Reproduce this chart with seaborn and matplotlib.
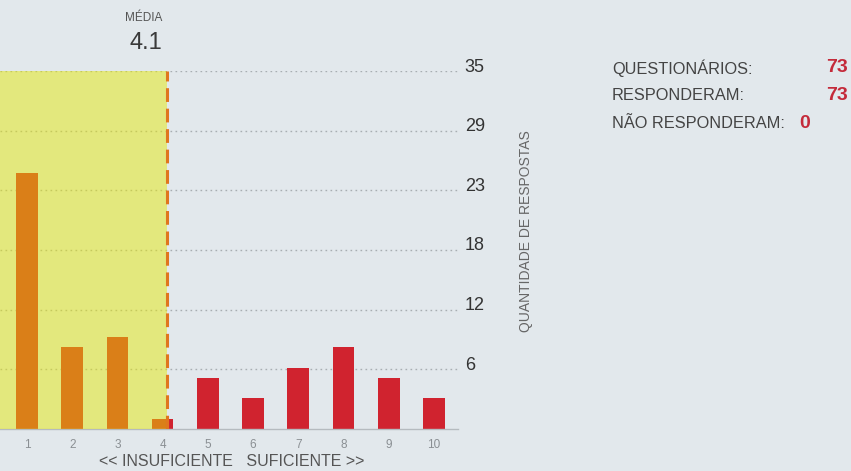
import matplotlib
matplotlib.use("Agg")
import matplotlib.pyplot as plt
import matplotlib.transforms as mtransforms
import seaborn as sns
import pandas as pd

# ---- data ----
scores = [1, 2, 3, 4, 5, 6, 7, 8, 9, 10]
counts = [25, 8, 9, 1, 5, 3, 6, 8, 5, 3]
y_max = 35
ytick_labels = ["6", "12", "18", "23", "29", "35"]
xtick_labels = [str(s) for s in scores]
stat_labels = ["QUESTIONÁRIOS:", "RESPONDERAM:", "NÃO RESPONDERAM:"]
stat_values = [73, 73, 0]
axis_caption = "<< INSUFICIENTE   SUFICIENTE >>"
ylabel_text = "QUANTIDADE DE RESPOSTAS"
mean_title = "MÉDIA"

mean_val = round(sum(s * c for s, c in zip(scores, counts)) / sum(counts), 1)

BG = "#E2E8EC"
RED = "#D0232F"
YELLOW = (0.90, 0.91, 0.0)
ORANGE_LINE = "#E0761E"

sns.set_theme(style="white")
plt.rcParams["font.family"] = ["Liberation Sans", "DejaVu Sans"]

fig = plt.figure(figsize=(8.51, 4.71), dpi=100, facecolor=BG)
ax = fig.add_axes([0.0, 1 - 429 / 471, 0.538, (429 - 71) / 471])
ax.set_facecolor(BG)

df = pd.DataFrame({"score": scores, "count": counts})
sns.barplot(data=df, x="score", y="count", native_scale=True, color=RED,
            saturation=1, width=0.48, linewidth=0, edgecolor="none",
            ax=ax, zorder=2)

ax.set_xlim(0.403, 10.53)
ax.set_ylim(0, y_max)

# y grid / ticks
tick_pos = [y_max * i / len(ytick_labels) for i in range(1, len(ytick_labels) + 1)]
for yp in tick_pos:
    ax.axhline(yp, color="#A8AEB2", lw=1.0, ls=(0, (1.2, 2.4)), zorder=1)
ax.yaxis.tick_right()
ax.set_yticks(tick_pos)
ax.set_yticklabels(ytick_labels, fontsize=13, color="#333333")
ax.tick_params(axis="y", length=0, pad=5)
up = mtransforms.ScaledTranslation(0, 6 / 100, fig.dpi_scale_trans)
for lab in ax.get_yticklabels():
    lab.set_transform(lab.get_transform() + up)

ax.set_xticks(scores)
ax.set_xticklabels(xtick_labels, fontsize=8.5, color="#8A8F93")
ax.tick_params(axis="x", length=0, pad=7)
ax.set_xlabel("")
ax.set_ylabel("")

for s in ["top", "left", "right"]:
    ax.spines[s].set_visible(False)
ax.spines["bottom"].set_color("#B5BBBF")
ax.spines["bottom"].set_linewidth(1.0)

# yellow overlay up to the mean + dashed mean line
ax.axvspan(ax.get_xlim()[0], mean_val, ymin=0, ymax=1, color=YELLOW, alpha=0.47,
           lw=0, zorder=3)
ax.plot([mean_val, mean_val], [0, y_max], color=ORANGE_LINE, lw=2.2,
        ls=(0, (4.5, 2.2)), zorder=4)

# mean label
fig.text(144 / 851, 1 - 18 / 471, mean_title, ha="center", va="center",
         fontsize=8.5, color="#555555")
fig.text(146 / 851, 1 - 43 / 471, f"{mean_val}", ha="center", va="center",
         fontsize=17, color="#3A3A3A")

# x caption
fig.text(232 / 851, 1 - 462 / 471, axis_caption, ha="center", va="center",
         fontsize=11.5, color="#555555")

# y label
fig.text(526 / 851, 1 - 231 / 471, ylabel_text, ha="center", va="center",
         rotation=90, fontsize=10, color="#666666")

# stats block
stat_y = [68, 96, 123]
val_x = [826, 826, 799]
for lab, val, yy, vx in zip(stat_labels, stat_values, stat_y, val_x):
    fig.text(612 / 851, 1 - yy / 471, lab, ha="left", va="center",
             fontsize=11.8, color="#444444")
    fig.text(vx / 851, 1 - yy / 471, str(val), ha="left", va="center",
             fontsize=14, color="#C42A3A", fontweight="bold")

fig.savefig("out.png", dpi=100, facecolor=BG)
